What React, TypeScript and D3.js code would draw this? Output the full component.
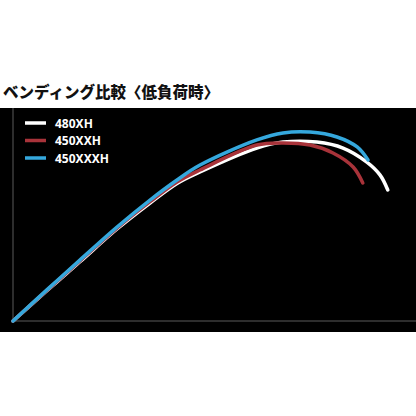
import * as React from "react";
import * as d3 from "d3";

// curve samples, x = load progress, y = deflection (0..100 in plot units)
const series = ["480XH", "450XXH", "450XXXH"];
const colors = ["#ffffff", "#a8333a", "#35a8dd"];

const xs480 = [0, 8.4, 16.6, 25.8, 34, 40.7, 46.4, 60.5, 67, 75.4, 81.9, 87.8, 91.1, 93];
const ys480 = [0, 14.2, 27.8, 43.2, 55.4, 64.6, 70, 81.2, 84, 84, 81.2, 74.6, 68.5, 61.5];

const xs450xx = [0, 8.4, 16.6, 25.8, 34, 40.7, 46.4, 60.5, 67, 73.7, 79.4, 84.4, 86.8];
const ys450xx = [0, 14.4, 28.2, 43.6, 56, 65.3, 70.9, 82.6, 83.6, 82.6, 78.9, 72.3, 64.8];

const xs450xxx = [0, 8.4, 16.6, 25.8, 34, 40.7, 46.4, 60.5, 67, 73.7, 80.4, 85.4, 88.1];
const ys450xxx = [0, 14.6, 28.6, 44.1, 56.8, 66.2, 73.2, 85, 88.3, 88.7, 86.4, 81.7, 75.6];

const title = "ベンディング比較〈低負荷時〉";

export default function App() {
  const ref = React.useRef<SVGSVGElement>(null);

  React.useEffect(() => {
    const W = 416;
    const H = 416;
    const svg = d3.select(ref.current);
    svg.selectAll("*").remove();

    svg.append("rect").attr("width", W).attr("height", H).attr("fill", "#ffffff");

    svg.append("text")
      .attr("x", 3)
      .attr("y", 98)
      .attr("font-family", "'Noto Sans CJK JP', sans-serif")
      .attr("font-weight", 900)
      .attr("font-size", 15.5)
      .attr("fill", "#111")
      .text(title);

    svg.append("rect")
      .attr("x", 0)
      .attr("y", 108)
      .attr("width", W)
      .attr("height", 224)
      .attr("fill", "#000");

    const x = d3.scaleLinear().domain([0, 100]).range([13, 416]);
    const y = d3.scaleLinear().domain([0, 100]).range([321, 108]);

    // axis lines
    svg.append("line")
      .attr("x1", x(0)).attr("x2", x(0))
      .attr("y1", y(100)).attr("y2", y(0))
      .attr("stroke", "#3c3c3c").attr("stroke-width", 1.5);
    svg.append("line")
      .attr("x1", x(0)).attr("x2", x(100))
      .attr("y1", y(0)).attr("y2", y(0))
      .attr("stroke", "#3c3c3c").attr("stroke-width", 1.5);

    const all = [
      d3.zip(xs480, ys480),
      d3.zip(xs450xx, ys450xx),
      d3.zip(xs450xxx, ys450xxx),
    ];

    const line = d3.line<number[]>()
      .x((d) => x(d[0]))
      .y((d) => y(d[1]))
      .curve(d3.curveCatmullRom);

    all.forEach((pts, i) => {
      svg.append("path")
        .attr("d", line(pts))
        .attr("fill", "none")
        .attr("stroke", colors[i])
        .attr("stroke-width", 3.5)
        .attr("stroke-linecap", "round");
    });

    // legend
    const legend = svg.append("g");
    series.forEach((name, i) => {
      const ly = 123 + i * 17.5;
      legend.append("line")
        .attr("x1", 25).attr("x2", 46)
        .attr("y1", ly).attr("y2", ly)
        .attr("stroke", colors[i]).attr("stroke-width", 3.5);
      legend.append("text")
        .attr("x", 55)
        .attr("y", ly + 4.5)
        .attr("font-family", "'Noto Sans', sans-serif")
        .attr("font-weight", 700)
        .attr("font-size", 12)
        .attr("fill", "#fff")
        .text(name);
    });
  }, []);

  return (
    <svg
      ref={ref}
      width={416}
      height={416}
      style={{ position: "absolute", left: 0, top: 0 }}
    />
  );
}
